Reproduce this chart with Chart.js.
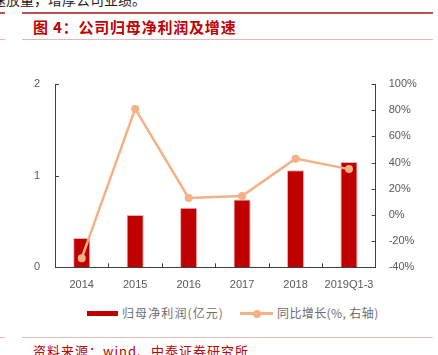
<!DOCTYPE html>
<html>
<head>
<meta charset="utf-8">
<script src="https://cdn.jsdelivr.net/npm/chart.js@4"></script>
<style>
  html, body { margin:0; padding:0; background:#fff; }
  body { width:438px; height:355px; position:relative; overflow:hidden; font-family:"Noto Sans CJK SC","Liberation Sans",sans-serif; }
  .abs { position:absolute; white-space:nowrap; }
  #wrap { position:absolute; left:0; top:50px; width:438px; height:250px; }
</style>
</head>
<body>
<div class="abs" style="left:-8px;top:-9px;font-size:14px;line-height:16px;color:#222;">速放量，增厚公司业绩。</div>
<div class="abs" style="left:0;top:12px;width:5px;height:2px;background:#C0504D;"></div>
<div class="abs" style="left:22px;top:12px;width:411px;height:2px;background:#C0504D;"></div>
<div class="abs" style="left:33px;top:18px;font-size:15px;line-height:18px;font-weight:bold;color:#C00000;letter-spacing:0.8px;">图 4：公司归母净利润及增速</div>
<div class="abs" style="left:0;top:39px;width:5px;height:1px;background:#E6B9B8;"></div>
<div class="abs" style="left:22px;top:39px;width:411px;height:1px;background:#E6B9B8;"></div>

<div id="wrap"><canvas id="c"></canvas></div>

<div class="abs" style="left:87px;top:311px;width:31px;height:5px;background:#C00000;"></div>
<div class="abs" style="left:122px;top:305px;font-size:12px;line-height:16px;color:#6e6e6e;letter-spacing:1.1px;">归母净利润(亿元)</div>
<div class="abs" style="left:240px;top:312px;width:33px;height:3px;background:#F4B183;"></div>
<div class="abs" style="left:252.5px;top:310px;width:8px;height:8px;border-radius:50%;background:#F4B183;"></div>
<div class="abs" style="left:277px;top:305px;font-size:12px;line-height:16px;color:#6e6e6e;letter-spacing:0.4px;">同比增长(%, 右轴)</div>

<div class="abs" style="left:0;top:337px;width:5px;height:1px;background:#E6B9B8;"></div>
<div class="abs" style="left:22px;top:337px;width:411px;height:1px;background:#E6B9B8;"></div>
<div class="abs" style="left:33px;top:342px;font-size:13px;line-height:17px;color:#C00000;letter-spacing:1px;">资料来源：wind、中泰证券研究所</div>

<script>
const categories = ["2014", "2015", "2016", "2017", "2018", "2019Q1-3"];
const netProfit = [0.32, 0.57, 0.65, 0.74, 1.06, 1.15];
const growthPct = [-33, 81, 13, 14.5, 43, 35];
const leftTicks = [0, 1, 2];
const rightTicks = [-40, -20, 0, 20, 40, 60, 80, 100];

const axisColor = "#404040";
const tickFont = { family: "Liberation Sans", size: 11 };
const tickColor = "#595959";

const innerTicks = {
  id: "innerTicks",
  afterDatasetsDraw(chart) {
    const ctx = chart.ctx;
    const x = chart.scales.x, yl = chart.scales.y, yr = chart.scales.y1;
    const a = chart.chartArea;
    ctx.save();
    ctx.strokeStyle = axisColor;
    ctx.lineWidth = 1;
    ctx.beginPath();
    for (let i = 1; i < categories.length; i++) {
      const px = Math.round((x.getPixelForValue(i - 1) + x.getPixelForValue(i)) / 2) + 0.5;
      ctx.moveTo(px, a.bottom); ctx.lineTo(px, a.bottom - 4);
    }
    leftTicks.forEach(v => {
      const py = Math.round(yl.getPixelForValue(v)) + 0.5;
      ctx.moveTo(a.left, py); ctx.lineTo(a.left + 4, py);
    });
    rightTicks.forEach(v => {
      const py = Math.round(yr.getPixelForValue(v)) + 0.5;
      ctx.moveTo(a.right, py); ctx.lineTo(a.right - 4, py);
    });
    ctx.stroke();
    ctx.restore();
  }
};

new Chart(document.getElementById("c"), {
  data: {
    labels: categories,
    datasets: [
      {
        type: "line",
        label: "同比增长(%, 右轴)",
        data: growthPct,
        yAxisID: "y1",
        borderColor: "#F4B183",
        backgroundColor: "#F4B183",
        borderWidth: 2.5,
        pointRadius: 4,
        pointBackgroundColor: "#F4B183",
        pointBorderWidth: 0,
        tension: 0,
        order: 0
      },
      {
        type: "bar",
        label: "归母净利润(亿元)",
        data: netProfit,
        yAxisID: "y",
        backgroundColor: "#C00000",
        borderColor: "#E8B0B0",
        borderWidth: { top: 1, left: 1, right: 1, bottom: 0 },
        barPercentage: 0.32,
        categoryPercentage: 1,
        order: 1
      }
    ]
  },
  options: {
    responsive: true,
    maintainAspectRatio: false,
    animation: false,
    layout: { padding: { top: 34, left: 0, right: 0, bottom: 0 } },
    plugins: { legend: { display: false }, tooltip: { enabled: false } },
    scales: {
      x: {
        offset: true,
        grid: { display: false, drawTicks: false },
        border: { display: true, color: axisColor, width: 1 },
        ticks: { font: tickFont, color: tickColor, padding: 11, maxRotation: 0, autoSkip: false },
        afterFit(s) { s.height = 32.7; }
      },
      y: {
        position: "left",
        min: 0, max: 2,
        grid: { display: false, drawTicks: false },
        border: { display: true, color: axisColor, width: 1 },
        ticks: { stepSize: 1, font: tickFont, color: tickColor, padding: 15 },
        afterFit(s) { s.width = 55; }
      },
      y1: {
        position: "right",
        min: -40, max: 100,
        grid: { display: false, drawTicks: false },
        border: { display: true, color: axisColor, width: 1 },
        ticks: { stepSize: 20, font: tickFont, color: tickColor, padding: 13, callback: v => v + "%" },
        afterFit(s) { s.width = 62.3; }
      }
    }
  },
  plugins: [innerTicks]
});
</script>
</body>
</html>
